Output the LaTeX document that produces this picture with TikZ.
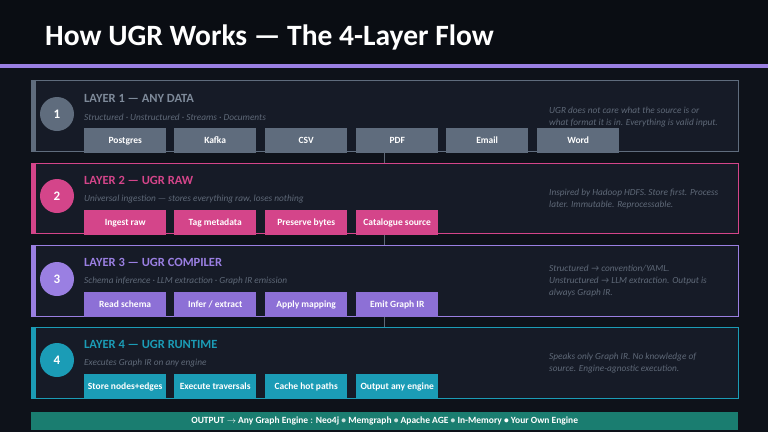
\documentclass[tikz,border=0pt]{standalone}
\usepackage{fontspec}
\setmainfont{Carlito}
\begin{document}
\begin{tikzpicture}[x=1pt,y=-1pt,
  lbox/.style={draw=#1,line width=1.2pt,fill=panel},
  chip/.style={fill=#1,text=white,font=\bfseries\fontsize{9.5}{11}\selectfont,minimum width=82pt,minimum height=25pt,inner sep=1pt,text height=6.8pt,text depth=2pt,anchor=north west},
  num/.style={circle,fill=#1,text=white,font=\bfseries\fontsize{13}{15}\selectfont,minimum size=34pt,inner sep=0pt},
  ltitle/.style={text=#1,font=\bfseries\fontsize{12.5}{14}\selectfont,anchor=west,inner sep=0pt},
  sub/.style={text=subg,font=\itshape\fontsize{9.3}{11}\selectfont,anchor=west,inner sep=0pt},
  note/.style={text=subg,font=\itshape\fontsize{9.3}{12}\selectfont,anchor=north west,inner sep=0pt,align=left}]
\definecolor{bg}{HTML}{0E121A}
\definecolor{topbg}{HTML}{0A0D13}
\definecolor{panel}{HTML}{161B27}
\definecolor{subg}{HTML}{5F6978}
\definecolor{c1}{HTML}{5F6C7D}
\definecolor{t1}{HTML}{7E8A9A}
\definecolor{c2}{HTML}{D4458A}
\definecolor{c3}{HTML}{9A7FE2}
\definecolor{k3}{HTML}{8D70D6}
\definecolor{c4}{HTML}{1B9CB6}
\definecolor{outc}{HTML}{1A7D70}
\useasboundingbox (0,0) rectangle (768,432);
\fill[bg] (0,0) rectangle (768,432);
\fill[topbg] (0,0) rectangle (768,64);
\fill[c3] (0,64) rectangle (768,68);
\node[text=white,font=\bfseries\fontsize{29.5}{32}\selectfont,anchor=west,inner sep=0pt] (title) at (45,37) {How UGR Works — The 4-Layer Flow};
% connectors
\coordinate (j1) at (384,151); \coordinate (j2) at (384,163);
\coordinate (j3) at (384,233); \coordinate (j4) at (384,245);
\coordinate (j5) at (384,316); \coordinate (j6) at (384,327);
\draw[subg,line width=0.6pt] (j1)--(j2); \draw[subg,line width=0.6pt] (j3)--(j4); \draw[subg,line width=0.6pt] (j5)--(j6);
% layer boxes
\node[lbox=c1,minimum width=707pt,minimum height=71pt,anchor=north west,inner sep=0] (L1) at (31,80) {};
\fill[c1] (31,80) rectangle (36,151);
\node[lbox=c2,minimum width=707pt,minimum height=70pt,anchor=north west,inner sep=0] (L2) at (31,163) {};
\fill[c2] (31,163) rectangle (36,233);
\node[lbox=c3,minimum width=707pt,minimum height=71pt,anchor=north west,inner sep=0] (L3) at (31,245) {};
\fill[c3] (31,245) rectangle (36,316);
\node[lbox=c4,minimum width=707pt,minimum height=71pt,anchor=north west,inner sep=0] (L4) at (31,327) {};
\fill[c4] (31,327) rectangle (36,398);
% layer 1
\node[num=c1] (n1) at (57,114) {1};
\node[ltitle=t1] (h1) at (84,98) {LAYER 1 — ANY DATA};
\node[sub] (s1) at (84,117) {Structured · Unstructured · Streams · Documents};
\node[note] (r1) at (549,107) {UGR does not care what the source is or\\what format it is in. Everything is valid input.};
\node[chip=c1] (a1) at (84,128) {Postgres};
\node[chip=c1] (a2) at (174,128) {Kafka};
\node[chip=c1] (a3) at (265,128) {CSV};
\node[chip=c1] (a4) at (356,128) {PDF};
\node[chip=c1] (a5) at (446,128) {Email};
\node[chip=c1] (a6) at (537,128) {Word};
% layer 2
\node[num=c2] (n2) at (57,196) {2};
\node[ltitle=c2] (h2) at (84,180) {LAYER 2 — UGR RAW};
\node[sub] (s2) at (84,199) {Universal ingestion — stores everything raw, loses nothing};
\node[note] (r2) at (549,189) {Inspired by Hadoop HDFS. Store first. Process\\later. Immutable. Reprocessable.};
\node[chip=c2] (b1) at (84,210) {Ingest raw};
\node[chip=c2] (b2) at (174,210) {Tag metadata};
\node[chip=c2] (b3) at (265,210) {Preserve bytes};
\node[chip=c2] (b4) at (356,210) {Catalogue source};
% layer 3
\node[num=c3] (n3) at (57,279) {3};
\node[ltitle=c3] (h3) at (84,262) {LAYER 3 — UGR COMPILER};
\node[sub] (s3) at (84,281) {Schema inference · LLM extraction · Graph IR emission};
\node[note] (r3) at (549,265) {Structured → convention/YAML.\\Unstructured → LLM extraction. Output is\\always Graph IR.};
\node[chip=k3] (d1) at (84,292) {Read schema};
\node[chip=k3] (d2) at (174,292) {Infer / extract};
\node[chip=k3] (d3) at (265,292) {Apply mapping};
\node[chip=k3] (d4) at (356,292) {Emit Graph IR};
% layer 4
\node[num=c4] (n4) at (57,360) {4};
\node[ltitle=c4] (h4) at (84,344) {LAYER 4 — UGR RUNTIME};
\node[sub] (s4) at (84,363) {Executes Graph IR on any engine};
\node[note] (r4) at (549,353) {Speaks only Graph IR. No knowledge of\\source. Engine-agnostic execution.};
\node[chip=c4] (e1) at (84,374) {Store nodes+edges};
\node[chip=c4] (e2) at (174,374) {Execute traversals};
\node[chip=c4] (e3) at (265,374) {Cache hot paths};
\node[chip=c4] (e4) at (356,374) {Output any engine};
% output bar
\node[fill=outc,minimum width=707pt,minimum height=18pt,anchor=north west,inner sep=0] (out) at (31,412) {};
\node[text=white,font=\bfseries\fontsize{9.5}{11}\selectfont,inner sep=0] (outt) at (out.center) {OUTPUT $\rightarrow$ Any Graph Engine \textcolor{white!75!outc}{:} Neo4j \textcolor{white!75!outc}{•} Memgraph \textcolor{white!75!outc}{•} Apache AGE \textcolor{white!75!outc}{•} In-Memory • Your Own Engine};
\end{tikzpicture}
\end{document}
